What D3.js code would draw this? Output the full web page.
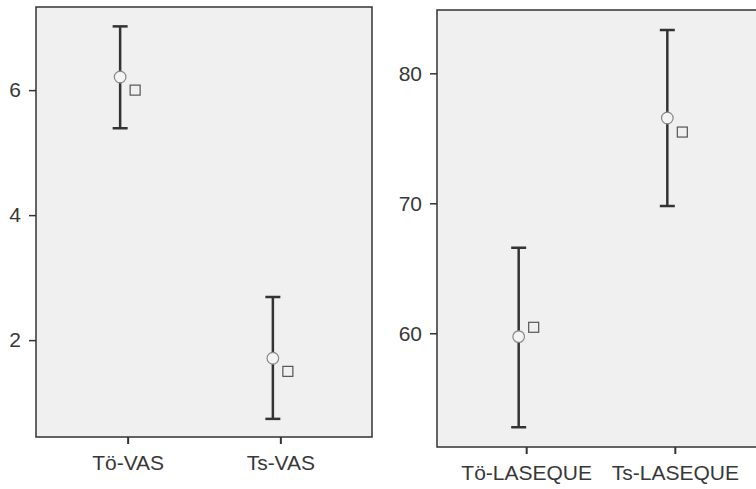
<!DOCTYPE html>
<html><head><meta charset="utf-8">
<script src="https://cdn.jsdelivr.net/npm/d3@7"></script>
<style>html,body{margin:0;padding:0;background:#fff;overflow:hidden}</style>
</head><body>
<svg id="chart" width="756" height="489"></svg>
<script>
// Panel 1: VAS
const vasCategories = ["Tö-VAS", "Ts-VAS"];
const vasMean = [6.21, 1.71];
const vasLower = [5.39, 0.74];
const vasUpper = [7.02, 2.69];
const vasSquare = [6.0, 1.5];
const vasTicks = [2, 4, 6];

// Panel 2: LASEQUE
const lasCategories = ["Tö-LASEQUE", "Ts-LASEQUE"];
const lasMean = [59.74, 76.56];
const lasLower = [52.77, 69.79];
const lasUpper = [66.58, 83.33];
const lasSquare = [60.46, 75.48];
const lasTicks = [60, 70, 80];

const svg = d3.select("#chart");
const FONT = "'Liberation Sans', Arial, sans-serif";

function panel(cfg) {
  const {cats, mean, lower, upper, square, ticks, left, right, top, bottom, domain} = cfg;
  const g = svg.append("g");
  const x = d3.scalePoint().domain(cats).range([left, right]).padding(0.6);
  const y = d3.scaleLinear().domain(domain).range([bottom, top]);

  g.append("rect").attr("x", left).attr("y", top)
    .attr("width", right - left).attr("height", bottom - top)
    .attr("fill", "#f0f0f0").attr("stroke", "#333").attr("stroke-width", 1.5);

  const yAxis = g.append("g").attr("transform", `translate(${left},0)`)
    .call(d3.axisLeft(y).tickValues(ticks).tickSize(7).tickPadding(8).tickFormat(d3.format("d")));
  yAxis.select(".domain").remove();
  yAxis.selectAll("line").attr("stroke", "#333").attr("stroke-width", 1.5);
  yAxis.selectAll("text").attr("font-family", FONT).attr("font-size", 21).attr("fill", "#383838");

  const xAxis = g.append("g").attr("transform", `translate(0,${bottom})`)
    .call(d3.axisBottom(x).tickSize(7).tickPadding(11));
  xAxis.select(".domain").remove();
  xAxis.selectAll("line").attr("stroke", "#333").attr("stroke-width", 2);
  xAxis.selectAll("text").attr("font-family", FONT).attr("font-size", 21).attr("fill", "#383838");

  const off = 7.5, cap = 7.5;
  cats.forEach((c, i) => {
    const cx = x(c) - off;
    g.append("line").attr("x1", cx).attr("x2", cx).attr("y1", y(lower[i])).attr("y2", y(upper[i]))
      .attr("stroke", "#333").attr("stroke-width", 2.5);
    [lower[i], upper[i]].forEach(v => {
      g.append("line").attr("x1", cx - cap).attr("x2", cx + cap).attr("y1", y(v)).attr("y2", y(v))
        .attr("stroke", "#333").attr("stroke-width", 2.5);
    });
    g.append("circle").attr("cx", cx).attr("cy", y(mean[i])).attr("r", 5.8)
      .attr("fill", "#f4f4f4").attr("stroke", "#888").attr("stroke-width", 1.2);
    const sx = x(c) + off, s = 10;
    g.append("rect").attr("x", sx - s / 2).attr("y", y(square[i]) - s / 2).attr("width", s).attr("height", s)
      .attr("fill", "#f0f0f0").attr("stroke", "#555").attr("stroke-width", 1.2);
  });
}

panel({cats: vasCategories, mean: vasMean, lower: vasLower, upper: vasUpper, square: vasSquare,
  ticks: vasTicks, left: 36, right: 372, top: 7, bottom: 437, domain: [0.45, 7.33]});
panel({cats: lasCategories, mean: lasMean, lower: lasLower, upper: lasUpper, square: lasSquare,
  ticks: lasTicks, left: 437, right: 764, top: 10, bottom: 447, domain: [51.25, 84.87]});
</script>
</body></html>
